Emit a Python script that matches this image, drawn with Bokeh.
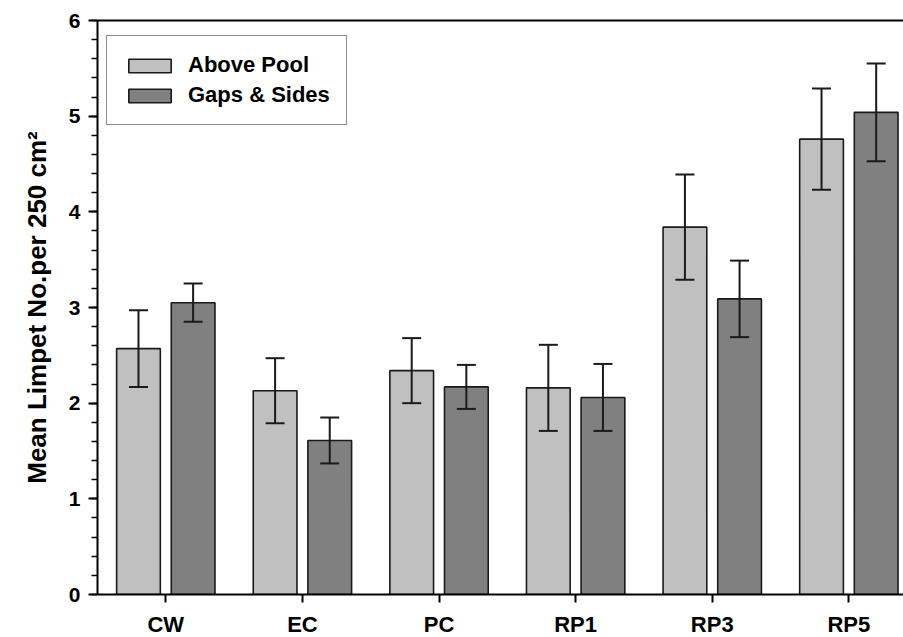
from bokeh.plotting import figure
from bokeh.models import (ColumnDataSource, Range1d, FixedTicker, SingleIntervalTicker,
                          LinearAxis, Whisker, TeeHead, Legend, LegendItem)
from bokeh.transform import dodge
from bokeh.embed import file_html
from bokeh.resources import INLINE

# Mean limpet counts per 250 cm² by site, with standard errors
sites = ["CW", "EC", "PC", "RP1", "RP3", "RP5"]
above_pool = [2.57, 2.13, 2.34, 2.16, 3.84, 4.76]
above_pool_err = [0.40, 0.34, 0.34, 0.45, 0.55, 0.53]
gaps_sides = [3.05, 1.61, 2.17, 2.06, 3.09, 5.04]
gaps_sides_err = [0.20, 0.24, 0.23, 0.35, 0.40, 0.51]
y_ticks = [0, 1, 2, 3, 4, 5, 6]

FONT = "Liberation Sans"
LIGHT = "#c0c0c0"
DARK = "#808080"
EDGE = "#1a1a1a"
INK = "#000000"

xpos = list(range(len(sites)))
src = ColumnDataSource(dict(
    x=xpos,
    ap=above_pool,
    ap_hi=[v + e for v, e in zip(above_pool, above_pool_err)],
    ap_lo=[v - e for v, e in zip(above_pool, above_pool_err)],
    gs=gaps_sides,
    gs_hi=[v + e for v, e in zip(gaps_sides, gaps_sides_err)],
    gs_lo=[v - e for v, e in zip(gaps_sides, gaps_sides_err)],
))

p = figure(width=903, height=637, frame_width=806, frame_height=574,
           x_range=Range1d(-0.5, 5.4), y_range=Range1d(0, 6),
           output_backend="svg", toolbar_location=None,
           min_border_left=97, min_border_top=20, min_border_bottom=43,
           min_border_right=0)
p.outline_line_color = None
p.xgrid.visible = False
p.ygrid.visible = False
p.background_fill_color = "white"
p.border_fill_color = "white"

off, bw = 0.2, 0.32
r_ap = p.vbar(x=dodge("x", -off, range=p.x_range), top="ap", width=bw, source=src,
              fill_color=LIGHT, line_color=EDGE, line_width=1.6)
r_gs = p.vbar(x=dodge("x", off, range=p.x_range), top="gs", width=bw, source=src,
              fill_color=DARK, line_color=EDGE, line_width=1.6)

for shift, hi, lo in ((-off, "ap_hi", "ap_lo"), (off, "gs_hi", "gs_lo")):
    w = Whisker(source=src, base=dodge("x", shift, range=p.x_range), upper=hi, lower=lo,
                line_color=EDGE, line_width=2, level="annotation",
                upper_head=TeeHead(size=19, line_color=EDGE, line_width=2),
                lower_head=TeeHead(size=19, line_color=EDGE, line_width=2))
    p.add_layout(w)

# x axis: one tick per site
xa = p.xaxis[0]
xa.ticker = FixedTicker(ticks=xpos)
xa.major_label_overrides = {i: s for i, s in enumerate(sites)}
xa.major_tick_out = 8
xa.major_tick_in = 0
xa.minor_tick_line_color = None
xa.major_label_standoff = 9
xa.major_label_text_font = FONT
xa.major_label_text_font_style = "bold"
xa.major_label_text_font_size = "22px"
xa.major_label_text_color = INK
xa.axis_line_color = INK
xa.major_tick_line_color = INK
xa.axis_line_width = 2
xa.major_tick_line_width = 2

# y axis with minor ticks every 0.2
ya = p.yaxis[0]
ya.ticker = SingleIntervalTicker(interval=1, num_minor_ticks=5)
ya.major_label_overrides = {t: str(t) for t in y_ticks}
ya.major_tick_out = 9
ya.major_tick_in = 0
ya.minor_tick_out = 6
ya.minor_tick_in = 0
ya.major_label_standoff = 8
ya.major_label_text_font = FONT
ya.major_label_text_font_style = "bold"
ya.major_label_text_font_size = "21px"
ya.major_label_text_color = INK
ya.axis_label = "Mean Limpet No.per 250 cm²"
ya.axis_label_text_font = FONT
ya.axis_label_text_font_style = "bold"
ya.axis_label_text_font_size = "26px"
ya.axis_label_text_color = INK
ya.axis_label_standoff = 14
ya.axis_line_color = INK
ya.major_tick_line_color = INK
ya.minor_tick_line_color = INK
ya.axis_line_width = 2
ya.major_tick_line_width = 2
ya.minor_tick_line_width = 1.5

# plain top border line
top = LinearAxis(ticker=FixedTicker(ticks=[]), major_label_text_font_size="0px",
                 major_tick_line_color=None, minor_tick_line_color=None,
                 axis_line_color=INK, axis_line_width=2)
p.add_layout(top, "above")

legend = Legend(items=[LegendItem(label="Above Pool", renderers=[r_ap]),
                       LegendItem(label="Gaps & Sides", renderers=[r_gs])],
                location=(9, 469), orientation="vertical",
                border_line_color=EDGE, border_line_width=1.5,
                background_fill_color="white", background_fill_alpha=1,
                label_text_font=FONT, label_text_font_style="bold",
                label_text_font_size="22px", label_text_color=INK,
                glyph_width=53, glyph_height=17,
                label_height=17, label_standoff=12, spacing=4, padding=16,
                margin=0)
p.add_layout(legend, "center")

open("out.html", "w").write(file_html(p, INLINE))
